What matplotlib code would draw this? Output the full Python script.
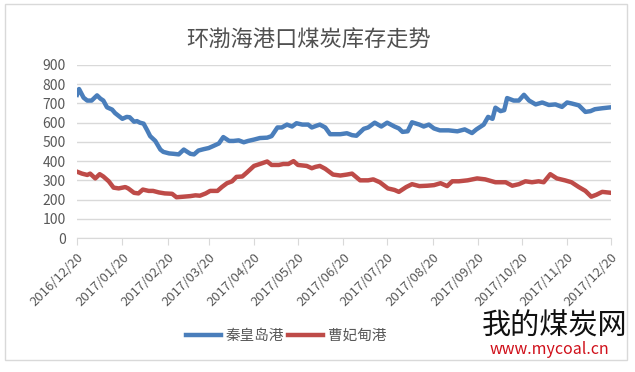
import numpy as np
import matplotlib
matplotlib.use("Agg")
import matplotlib.pyplot as plt
from matplotlib.patches import Rectangle

plt.rcParams['font.family'] = ['Noto Sans CJK SC', 'DejaVu Sans']

# ---- data (days after 2016/12/20, stock in 10k tons) ----
start = np.datetime64('2016-12-20')

qhd_days = [0, 1.4, 4.5, 7, 10, 13.7, 16, 18, 20.5, 24, 26, 31, 34, 36, 39, 41, 43, 45.5,
            48, 50, 53.5, 57, 59, 63, 66, 69.5, 73, 75, 77.5, 80, 83, 86.5, 90, 93, 97,
            100, 104, 107, 110.5, 114, 117, 121, 125, 130, 133, 137, 140, 143.5, 147, 150,
            154, 158, 160.5, 164, 166, 169.7, 173, 180, 184.5, 188, 191, 196, 199, 203.5,
            208, 212, 217, 220, 222.5, 226, 229, 234, 237, 240.5, 244, 248, 254, 260, 265,
            270, 273, 278, 281, 284, 286, 289.5, 292, 294, 298.5, 302, 305.5, 309, 313.5,
            318, 322.5, 327, 331.5, 335, 338, 343, 347.5, 351, 354, 359, 365]
qhd_vals = [745, 775, 730, 715, 715, 742, 725, 715, 680, 668, 650, 620, 630, 628, 605, 608, 600, 595,
            560, 530, 505, 460, 448, 440, 438, 435, 460, 450, 438, 435, 455, 462, 468, 478, 492,
            525, 505, 505, 508, 498, 505, 512, 520, 522, 530, 575, 575, 590, 580, 597,
            590, 590, 575, 585, 590, 575, 540, 540, 545, 535, 532, 568, 575, 600,
            580, 600, 580, 570, 552, 555, 602, 590, 580, 590, 570, 560, 560, 555, 565,
            546, 565, 590, 630, 620, 678, 660, 665, 728, 715, 715, 745, 715, 695,
            705, 692, 695, 682, 705, 700, 690, 656, 660, 670, 675, 680]

cfd_days = [0, 3.4, 7, 9, 12.5, 15.5, 18, 21.7, 25, 28.5, 33, 35, 39, 42, 45, 49, 52, 56, 60,
            65, 68, 73, 77.5, 81, 84, 88, 91, 96, 99, 102.5, 106, 109, 113, 116, 121, 125,
            130, 133, 138, 141, 144.5, 148, 151, 157, 160.5, 163, 166, 169.7, 175, 180,
            184.5, 188, 193.5, 199, 202.5, 207, 212.5, 217, 220, 225, 229, 234, 239.5, 244,
            248.5, 253, 256.5, 261, 267, 273.5, 279, 286, 293, 297.5, 302, 306.5, 311,
            315.5, 319, 323.5, 328, 333.5, 338, 343, 347.5, 351.5, 355, 359, 365]
cfd_vals = [345, 335, 328, 335, 310, 332, 320, 295, 262, 258, 265, 258, 235, 232, 252, 245, 245, 237, 232,
            230, 212, 215, 218, 222, 220, 232, 245, 245, 265, 285, 295, 318, 320, 340, 375, 385,
            398, 380, 380, 385, 385, 400, 380, 375, 363, 370, 375, 360, 330, 325,
            330, 335, 300, 300, 305, 290, 258, 250, 240, 265, 280, 270, 272, 275,
            285, 270, 295, 295, 300, 310, 305, 290, 290, 272, 280, 295, 290,
            295, 290, 332, 310, 300, 290, 265, 245, 215, 225, 240, 235]

month_labels = ['2016/12/20', '2017/01/20', '2017/02/20', '2017/03/20', '2017/04/20',
                '2017/05/20', '2017/06/20', '2017/07/20', '2017/08/20', '2017/09/20',
                '2017/10/20', '2017/11/20', '2017/12/20']

series_names = ['秦皇岛港', '曹妃甸港']
title = '环渤海港口煤炭库存走势'

# tick positions from the label dates
tick_pos = [(np.datetime64(s.replace('/', '-')) - start).astype(int) for s in month_labels]

W, H = 635, 372
fig = plt.figure(figsize=(W / 100, H / 100), dpi=100)
fig.patches.append(Rectangle((5 / W, 1 - 360 / H), 622 / W, 356 / H, transform=fig.transFigure,
                             fill=False, edgecolor='#d9d9d9', linewidth=1))

ax = fig.add_axes([77 / W, 1 - 238 / H, 534 / W, 173 / H])
blue = '#4a7ebb'
red = '#be4b48'
ax.plot(qhd_days, qhd_vals, color=blue, lw=3.2, label=series_names[0], solid_joinstyle='round')
ax.plot(cfd_days, cfd_vals, color=red, lw=3.2, label=series_names[1], solid_joinstyle='round')

ax.set_xlim(0, tick_pos[-1])
ax.set_ylim(0, 900)
ax.set_yticks(range(0, 901, 100))
ax.grid(axis='y', color='#d9d9d9', lw=1)
ax.set_axisbelow(True)
for s in ['top', 'right', 'left']:
    ax.spines[s].set_visible(False)
ax.spines['bottom'].set_color('#d9d9d9')
ax.tick_params(axis='y', length=0, labelsize=10, labelcolor='#595959', pad=8)
ax.set_xticks(tick_pos)
ax.set_xticklabels(month_labels, rotation=45, ha='right', rotation_mode='anchor')
ax.tick_params(axis='x', length=5, color='#d9d9d9', direction='out', labelsize=9.5,
               labelcolor='#595959', pad=4)

fig.text(309 / W, 1 - 40 / H, title, ha='center', va='center', fontsize=16, color='#505050')

leg = fig.legend(loc='center', bbox_to_anchor=(286 / W, 1 - 336 / H), ncol=2, frameon=False,
                 fontsize=10.5, handlelength=2.4, handletextpad=0.3, columnspacing=0.3,
                 labelcolor='#595959')

# watermark text
fig.text(482 / W, 1 - 327 / H, '我的煤炭网', fontsize=21, color='#111111', va='center', ha='left')
fig.text(490 / W, 1 - 350 / H, 'www.mycoal.cn', fontsize=11.5, color='#d0101a', va='center', ha='left')

fig.savefig('out.png', dpi=100)
